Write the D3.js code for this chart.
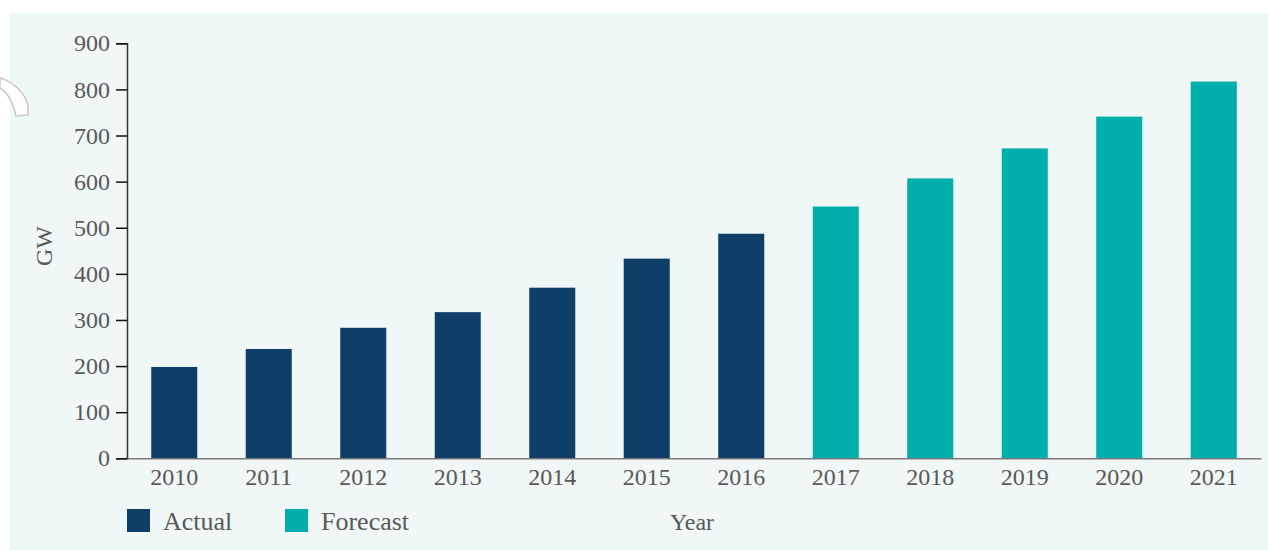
<!DOCTYPE html>
<html>
<head>
<meta charset="utf-8">
<script src="https://cdn.jsdelivr.net/npm/d3@7/dist/d3.min.js"></script>
<style>
  html, body { margin: 0; padding: 0; background: #ffffff; }
  svg { display: block; }
  text { font-family: "Liberation Serif", "DejaVu Serif", serif; fill: #595959; }
</style>
</head>
<body>
<svg id="chart" width="1268" height="550"></svg>
<script>
// Installed capacity, GW
const years = ["2010", "2011", "2012", "2013", "2014", "2015", "2016", "2017", "2018", "2019", "2020", "2021"];
const capacity = [198, 237, 283, 317, 370, 433, 487, 546, 607, 672, 741, 817];
const status = ["Actual", "Actual", "Actual", "Actual", "Actual", "Actual", "Actual",
                "Forecast", "Forecast", "Forecast", "Forecast", "Forecast"];
const legendItems = ["Actual", "Forecast"];
const yTicks = [0, 100, 200, 300, 400, 500, 600, 700, 800, 900];

const colors = { Actual: "#0f3e69", Forecast: "#00afab" };
const fontSize = 24;
const legendFontSize = 26;

const svg = d3.select("#chart");
const W = 1268, H = 550;

// panel background
svg.append("rect")
  .attr("x", 10).attr("y", 13)
  .attr("width", W - 10).attr("height", H - 13)
  .attr("fill", "#eff7f7");

// small crest ornament at the left edge
svg.append("path")
  .attr("d", "M0,78 C14,82 26,94 28,106 L28,115 L16,116 C14,104 8,93 0,88 Z")
  .attr("fill", "#ffffff")
  .attr("stroke", "#c9c9c9")
  .attr("stroke-width", 1.5);

const x0 = 127, x1 = 1261, yTop = 43.3, yBottom = 458.3;

const x = d3.scaleBand()
  .domain(years)
  .range([x0, x1])
  .paddingInner(0.513)
  .paddingOuter(0.2565);

const y = d3.scaleLinear()
  .domain([0, 900])
  .range([yBottom, yTop]);

const data = years.map((yr, i) => ({ year: yr, value: capacity[i], status: status[i] }));

// bars
svg.append("g")
  .selectAll("rect")
  .data(data)
  .join("rect")
  .attr("x", d => x(d.year))
  .attr("y", d => y(d.value))
  .attr("width", x.bandwidth())
  .attr("height", d => y(0) - y(d.value))
  .attr("fill", d => colors[d.status]);

// y axis
const yAxis = svg.append("g")
  .attr("transform", `translate(${x0},0)`)
  .call(d3.axisLeft(y).tickValues(yTicks).tickSize(11).tickPadding(6));
yAxis.select(".domain").attr("stroke", "#333").attr("stroke-width", 1.5);
yAxis.selectAll(".tick line").attr("stroke", "#111").attr("stroke-width", 1.5);
yAxis.selectAll(".tick text")
  .attr("font-size", fontSize)
  .attr("font-family", "Liberation Serif, serif")
  .attr("fill", "#595959");

// x axis
const xAxis = svg.append("g")
  .attr("transform", `translate(0,${yBottom})`)
  .call(d3.axisBottom(x).tickSize(0).tickPadding(10).tickSizeOuter(0));
xAxis.select(".domain").attr("stroke", "#7a7a7a").attr("stroke-width", 1.5);
xAxis.selectAll(".tick text")
  .attr("font-size", fontSize)
  .attr("font-family", "Liberation Serif, serif")
  .attr("fill", "#595959");

// axis titles
svg.append("text")
  .attr("transform", "translate(52,246) rotate(-90)")
  .attr("text-anchor", "middle")
  .attr("font-size", fontSize)
  .text("GW");

svg.append("text")
  .attr("x", 692).attr("y", 530)
  .attr("text-anchor", "middle")
  .attr("font-size", fontSize)
  .text("Year");

// legend
const legendX = [127, 285];
const legend = svg.append("g")
  .selectAll("g")
  .data(legendItems)
  .join("g")
  .attr("transform", (d, i) => `translate(${legendX[i]},509)`);
legend.append("rect")
  .attr("width", 23).attr("height", 23)
  .attr("fill", d => colors[d]);
legend.append("text")
  .attr("x", 36).attr("y", 21)
  .attr("font-size", legendFontSize)
  .text(d => d);
</script>
</body>
</html>
